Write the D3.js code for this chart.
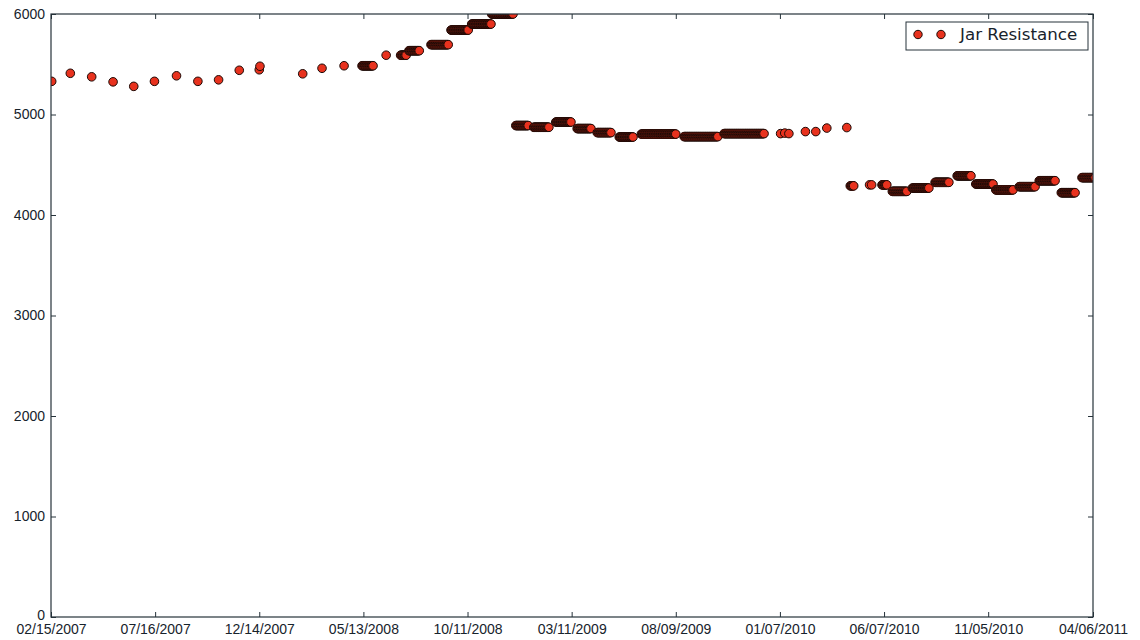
<!DOCTYPE html>
<html>
<head>
<meta charset="utf-8">
<script src="https://cdn.jsdelivr.net/npm/d3@7"></script>
<style>
  body { margin: 0; background: #ffffff; }
  svg { display: block; font-family: "DejaVu Sans", sans-serif; }
</style>
</head>
<body>
<div class="chart-container"></div>
<script>
// Tick labels
const xTickLabels = ["02/15/2007", "07/16/2007", "12/14/2007", "05/13/2008", "10/11/2008",
  "03/11/2009", "08/09/2009", "01/07/2010", "06/07/2010", "11/05/2010", "04/06/2011"];
const yTickValues = [0, 1000, 2000, 3000, 4000, 5000, 6000];

// Single readings (monthly in 2007/08, scattered ones in 2010)
const singleDates = ["2007-02-16", "2007-03-15", "2007-04-15", "2007-05-16", "2007-06-15",
  "2007-07-15", "2007-08-16", "2007-09-16", "2007-10-16", "2007-11-15", "2007-12-14",
  "2007-12-15", "2008-02-15", "2008-03-14", "2008-04-15", "2008-06-15", "2010-01-08",
  "2010-01-14", "2010-01-20", "2010-02-13", "2010-02-28", "2010-03-16", "2010-04-14",
  "2010-05-17", "2010-05-20"];
const singleValues = [5330, 5410, 5375, 5325, 5280, 5330, 5385, 5330, 5345, 5440, 5445,
  5480, 5405, 5460, 5485, 5590, 4810, 4815, 4810, 4830, 4830, 4865, 4870, 4300, 4300];

// Runs of frequent readings that stay at one value (start, end, value)
const runStarts = ["2008-05-11", "2008-07-06", "2008-07-18", "2008-08-19", "2008-09-17",
  "2008-10-17", "2008-11-15", "2008-12-20", "2009-01-15", "2009-02-16", "2009-03-19",
  "2009-04-17", "2009-05-19", "2009-06-20", "2009-08-21", "2009-10-18", "2010-04-19",
  "2010-06-04", "2010-06-19", "2010-07-18", "2010-08-20", "2010-09-21", "2010-10-18",
  "2010-11-16", "2010-12-20", "2011-01-18", "2011-02-19", "2011-03-21"];
const runEnds = ["2008-05-27", "2008-07-14", "2008-08-02", "2008-09-13", "2008-10-12",
  "2008-11-14", "2008-12-16", "2009-01-07", "2009-02-06", "2009-03-10", "2009-04-08",
  "2009-05-07", "2009-06-08", "2009-08-09", "2009-10-09", "2009-12-15", "2010-04-24",
  "2010-06-11", "2010-07-10", "2010-08-11", "2010-09-09", "2010-10-11", "2010-11-12",
  "2010-12-11", "2011-01-12", "2011-02-10", "2011-03-11", "2011-04-09"];
const runValues = [5485, 5590, 5635, 5695, 5840, 5900, 6000, 4890, 4873, 4925, 4860,
  4820, 4776, 4805, 4780, 4810, 4290, 4300, 4235, 4268, 4325, 4390, 4308, 4250, 4282,
  4341, 4222, 4372];
const readingStepDays = 1;

function drawChart() {
  // Set the dimensions and margins of the graph
  const width = 1140;
  const height = 640;
  const margin = { top: 14, right: 47, bottom: 23, left: 51 };
  const innerW = width - margin.left - margin.right;
  const innerH = height - margin.top - margin.bottom;

  const parseDay = d3.timeParse("%Y-%m-%d");
  const parseTick = d3.timeParse("%m/%d/%Y");
  const formatTick = d3.timeFormat("%m/%d/%Y");

  // Build the readings list
  let readings = singleDates.map((d, i) => ({ date: parseDay(d), value: singleValues[i] }));
  runStarts.forEach((s, i) => {
    const days = d3.timeDay.range(parseDay(s), d3.timeDay.offset(parseDay(runEnds[i]), 1), readingStepDays);
    days.forEach((d) => readings.push({ date: d, value: runValues[i] }));
  });
  readings.sort((a, b) => a.date - b.date);

  const tickDates = xTickLabels.map(parseTick);

  const svg = d3
    .select(".chart-container")
    .append("svg")
    .attr("width", width)
    .attr("height", height);

  const g = svg
    .append("g")
    .attr("transform", `translate(${margin.left},${margin.top})`);

  const x = d3
    .scaleTime()
    .domain([tickDates[0], tickDates[tickDates.length - 1]])
    .range([0, innerW]);

  const y = d3.scaleLinear().domain([0, 6000]).range([innerH, 0]);

  const axisColor = "#26323a";
  const textColor = "#17232c";

  // clip the markers to the plot box like matplotlib does
  svg.append("defs")
    .append("clipPath")
    .attr("id", "plot-clip")
    .append("rect")
    .attr("width", innerW)
    .attr("height", innerH);

  // Markers
  g.append("g")
    .attr("clip-path", "url(#plot-clip)")
    .selectAll("circle")
    .data(readings)
    .enter()
    .append("circle")
    .attr("cx", (d) => x(d.date))
    .attr("cy", (d) => y(d.value))
    .attr("r", 4.3)
    .attr("fill", "#e8321e")
    .attr("stroke", "#1c0a06")
    .attr("stroke-width", 1);

  // Axes, ticks pointing inwards on all four sides
  const styleAxis = (sel, showText) => {
    sel.select(".domain").remove();
    sel.selectAll(".tick line").attr("stroke", axisColor);
    sel.selectAll(".tick text")
      .attr("fill", textColor)
      .style("font-size", "14px")
      .style("display", showText ? null : "none");
  };

  g.append("g")
    .attr("transform", `translate(0,${innerH})`)
    .call(d3.axisBottom(x).tickValues(tickDates).tickFormat(formatTick).tickSize(-5).tickPadding(7))
    .call(styleAxis, true);

  g.append("g")
    .call(d3.axisTop(x).tickValues(tickDates).tickSize(-5))
    .call(styleAxis, false);

  g.append("g")
    .call(d3.axisLeft(y).tickValues(yTickValues).tickFormat(d3.format("d")).tickSize(-5).tickPadding(6))
    .call(styleAxis, true);

  // the "0" sits a touch higher so it clears the first date label
  g.selectAll(".tick text").filter((d) => d === 0).attr("dy", "0.15em");

  g.append("g")
    .attr("transform", `translate(${innerW},0)`)
    .call(d3.axisRight(y).tickValues(yTickValues).tickSize(-5))
    .call(styleAxis, false);

  // Frame
  g.append("rect")
    .attr("width", innerW)
    .attr("height", innerH)
    .attr("fill", "none")
    .attr("stroke", axisColor)
    .attr("stroke-width", 1.2);

  // Legend
  const legend = svg.append("g").attr("transform", "translate(906,22)");
  legend.append("rect")
    .attr("width", 182)
    .attr("height", 28)
    .attr("fill", "#ffffff")
    .attr("stroke", axisColor)
    .attr("stroke-width", 1);
  legend.selectAll("circle")
    .data([12, 35])
    .enter()
    .append("circle")
    .attr("cx", (d) => d)
    .attr("cy", 12.5)
    .attr("r", 4.2)
    .attr("fill", "#e8321e")
    .attr("stroke", "#1c0a06")
    .attr("stroke-width", 1);
  legend.append("text")
    .attr("x", 54)
    .attr("y", 12.5)
    .attr("dy", "0.35em")
    .attr("fill", textColor)
    .style("font-size", "16.7px")
    .text("Jar Resistance");
}

drawChart();
</script>
</body>
</html>
